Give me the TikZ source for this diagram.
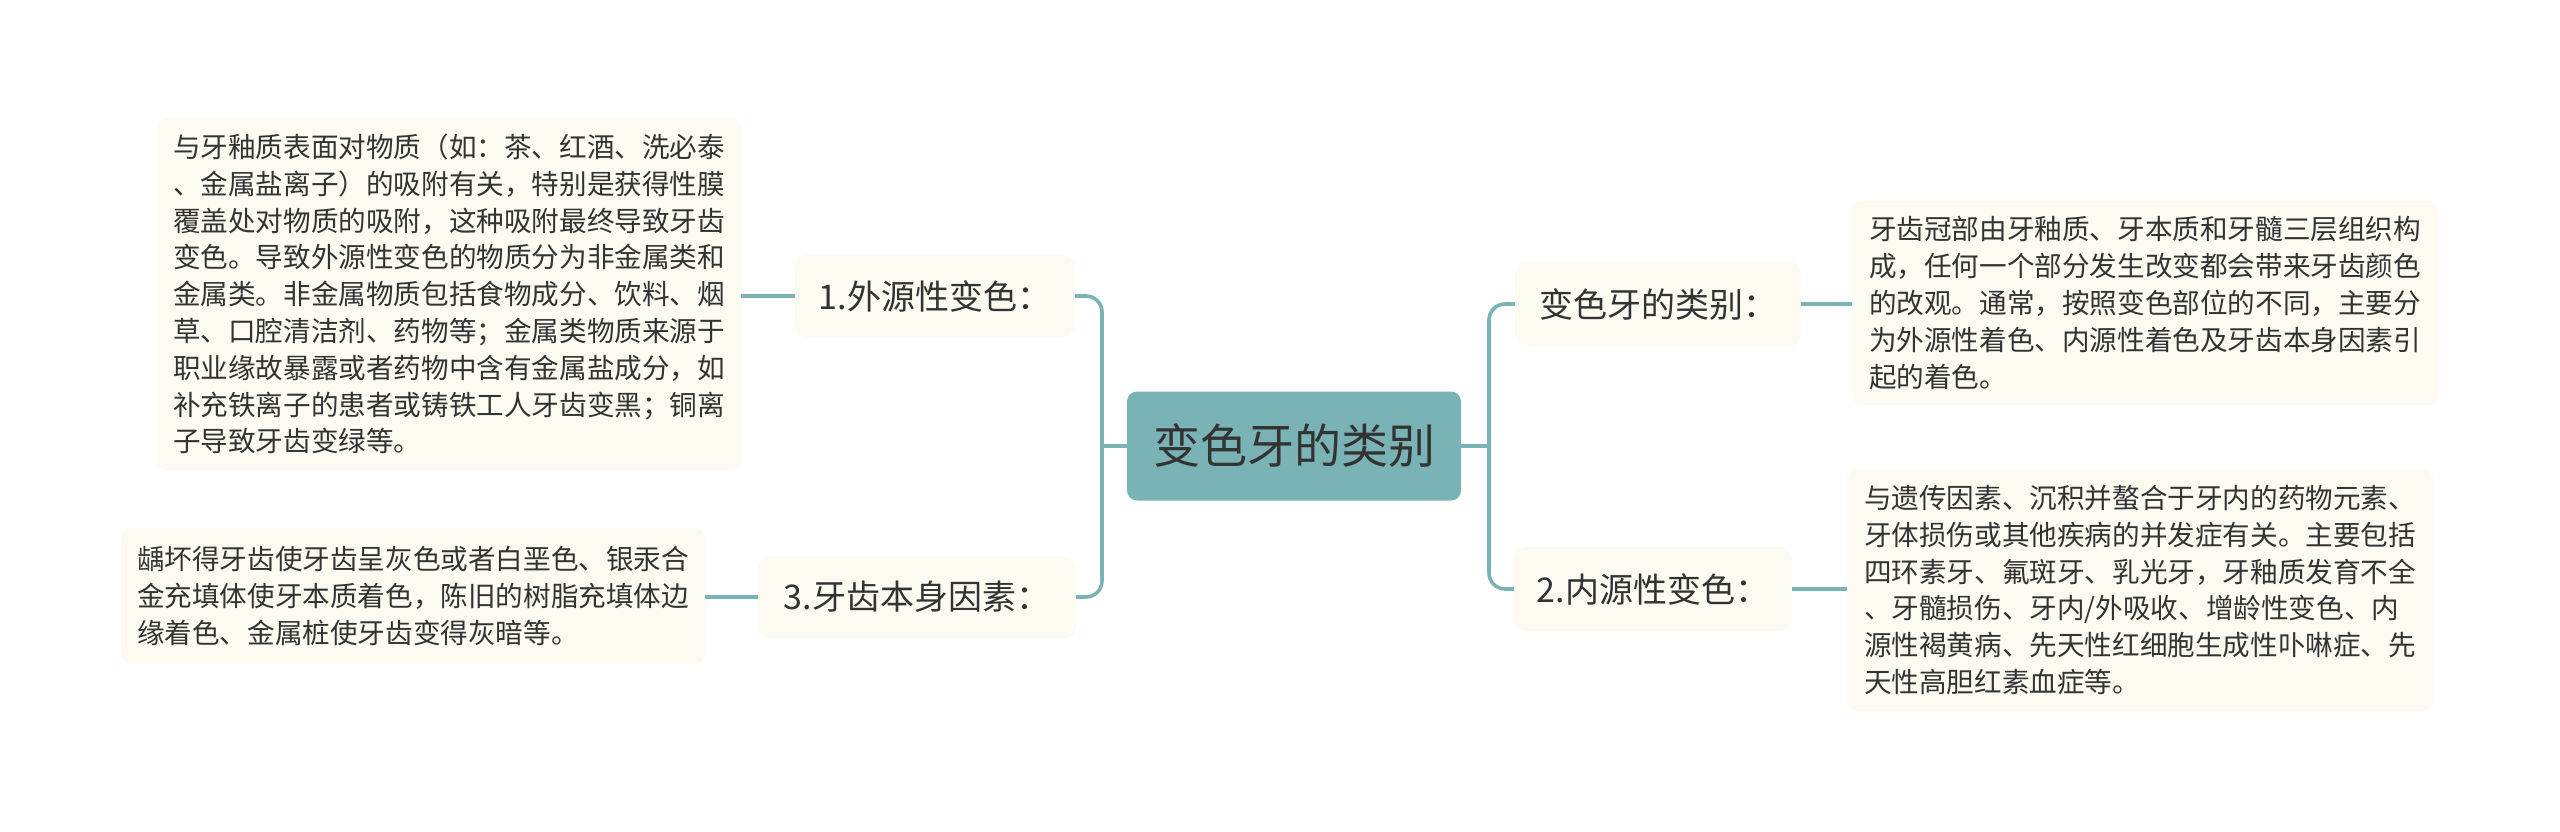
\documentclass[tikz,border=0pt]{standalone}
\usepackage{fontspec}
\setmainfont{Noto Sans CJK SC}
\definecolor{tealc}{HTML}{7AB3B5}
\definecolor{creamc}{HTML}{FCFAF1}
\definecolor{txtc}{HTML}{333333}
\begin{document}
\begin{tikzpicture}[x=1pt,y=-1pt,
  conn/.style={draw=tealc,line width=3.6pt,rounded corners=16pt},
  centerbox/.style={fill=tealc,rounded corners=10pt,text=txtc,inner sep=0pt,
    font=\fontsize{47pt}{56pt}\selectfont},
  branchbox/.style={fill=creamc,rounded corners=12pt,text=txtc,inner sep=0pt,
    font=\fontsize{34pt}{40pt}\selectfont},
  detailbox/.style={fill=creamc,rounded corners=10pt,text=txtc,inner sep=0pt,align=left,
    font=\fontsize{27.6pt}{36.8pt}\selectfont}]
\useasboundingbox (0,0) rectangle (2560,831);
\fill[white] (0,0) rectangle (2560,831);

\node[centerbox,minimum width=334pt,minimum height=109pt] (c) at (1294,446) {变色牙的类别};

\node[branchbox,minimum width=286pt,minimum height=85pt] (r1) at (1658,304) {变色牙的类别：};
\node[branchbox,minimum width=278pt,minimum height=84pt] (r2) at (1653,589) {2.内源性变色：};
\node[branchbox,minimum width=280pt,minimum height=82pt] (l1) at (935,296) {1.外源性变色：};
\node[branchbox,minimum width=318pt,minimum height=82pt] (l3) at (917,597) {3.牙齿本身因素：};

\node[detailbox,minimum width=584pt,minimum height=352pt] (lt1) at (449,294) {与牙釉质表面对物质（如：茶、红酒、洗必泰\\
、金属盐离子）的吸附有关，特别是获得性膜\\
覆盖处对物质的吸附，这种吸附最终导致牙齿\\
变色。导致外源性变色的物质分为非金属类和\\
金属类。非金属物质包括食物成分、饮料、烟\\
草、口腔清洁剂、药物等；金属类物质来源于\\
职业缘故暴露或者药物中含有金属盐成分，如\\
补充铁离子的患者或铸铁工人牙齿变黑；铜离\\
子导致牙齿变绿等。};

\node[detailbox,minimum width=584pt,minimum height=136pt] (lt3) at (413,596) {龋坏得牙齿使牙齿呈灰色或者白垩色、银汞合\\
金充填体使牙本质着色，陈旧的树脂充填体边\\
缘着色、金属桩使牙齿变得灰暗等。};

\node[detailbox,minimum width=585pt,minimum height=204pt] (rt1) at (2145,303) {牙齿冠部由牙釉质、牙本质和牙髓三层组织构\\
成，任何一个部分发生改变都会带来牙齿颜色\\
的改观。通常，按照变色部位的不同，主要分\\
为外源性着色、内源性着色及牙齿本身因素引\\
起的着色。};

\node[detailbox,minimum width=586pt,minimum height=241pt] (rt2) at (2140,590) {与遗传因素、沉积并螯合于牙内的药物元素、\\
牙体损伤或其他疾病的并发症有关。主要包括\\
四环素牙、氟斑牙、乳光牙，牙釉质发育不全\\
、牙髓损伤、牙内/外吸收、增龄性变色、内\\
源性褐黄病、先天性红细胞生成性卟啉症、先\\
天性高胆红素血症等。};

\coordinate (lt) at (1102,446);
\coordinate (rt) at (1489,446);

\draw[conn] (l1.east) -| (lt) |- (l3.east);
\draw[conn] (c.west) -- (lt);
\draw[conn] (r1.west) -| (rt) |- (r2.west);
\draw[conn] (c.east) -- (rt);

\draw[conn] (lt1.east |- l1.west) -- (l1.west);
\draw[conn] (lt3.east |- l3.west) -- (l3.west);
\draw[conn] (r1.east) -- (rt1.west |- r1.east);
\draw[conn] (r2.east) -- (rt2.west |- r2.east);
\end{tikzpicture}
\end{document}
